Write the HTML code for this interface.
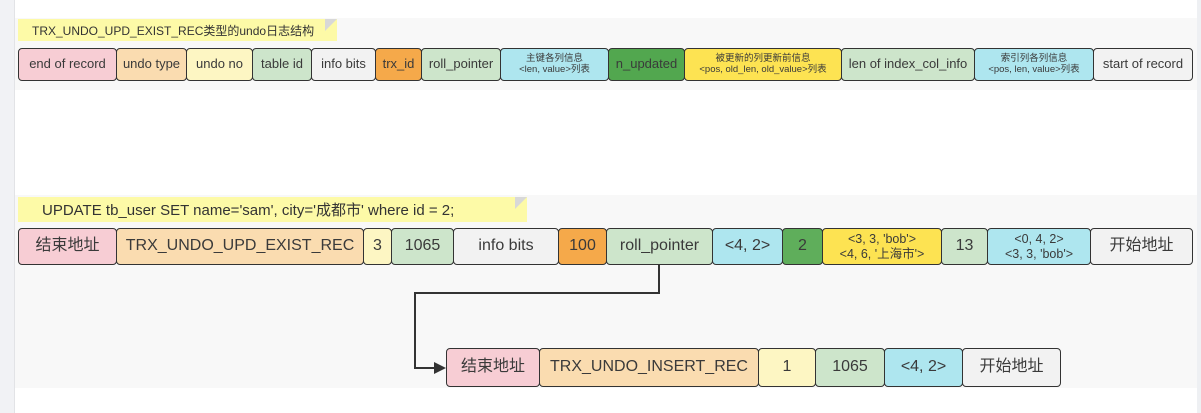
<!DOCTYPE html>
<html><head><meta charset="utf-8"><style>
body{margin:0;width:1201px;height:413px;background:#fff;position:relative;overflow:hidden;font-family:"Liberation Sans","Noto Sans CJK SC",sans-serif;color:#3a3a3a}
.strip{position:absolute;left:0;top:0;width:14px;height:413px;background:#f1f2f5;border-right:1px solid #e2e3e6}
.rstrip{position:absolute;left:1197px;top:0;width:4px;height:413px;background:#eef0f3}
.panel{position:absolute;left:15px;background:#f8f8f8}
.note{position:absolute;background:#fdfaa7;color:#333;white-space:nowrap;display:flex;align-items:center}
.fold{position:absolute;width:0;height:0;border-left:12px solid #d8d8d8;border-bottom:12px solid transparent}
.b{position:absolute;box-sizing:border-box;border:1.6px solid #333;border-radius:4px;display:flex;align-items:center;justify-content:center;text-align:center;white-space:nowrap;line-height:1.15}
.s{font-size:13px}.l{font-size:16px}
.t{font-size:9.5px}
</style></head><body>
<div class="strip"></div><div class="rstrip"></div>
<div class="panel" style="top:18px;height:72px;width:1182px"></div>
<div class="panel" style="top:195px;height:193px;width:1182px"></div>

<div class="note" style="left:18px;top:19px;width:319px;height:22px;font-size:12px;padding-left:14px;box-sizing:border-box">TRX_UNDO_UPD_EXIST_REC类型的undo日志结构</div>
<div class="fold" style="left:325px;top:19px"></div>

<div class="b s" style="left:18px;top:48px;width:99px;height:33px;background:#f7cdd4">end of record</div>
<div class="b s" style="left:116px;top:48px;width:71px;height:33px;background:#fadcb0">undo type</div>
<div class="b s" style="left:186px;top:48px;width:67px;height:33px;background:#fdf6c3">undo no</div>
<div class="b s" style="left:252px;top:48px;width:60px;height:33px;background:#cde5cb">table id</div>
<div class="b s" style="left:311px;top:48px;width:65px;height:33px;background:#f2f2f2">info bits</div>
<div class="b s" style="left:375px;top:48px;width:47px;height:33px;background:#f5a94a">trx_id</div>
<div class="b s" style="left:421px;top:48px;width:80px;height:33px;background:#cde5cb">roll_pointer</div>
<div class="b t" style="left:500px;top:48px;width:109px;height:33px;background:#aee6ef">主键各列信息<br>&lt;len, value&gt;列表</div>
<div class="b s" style="left:608px;top:48px;width:77px;height:33px;background:#52a74f">n_updated</div>
<div class="b t" style="left:684px;top:48px;width:158px;height:33px;background:#fde352">被更新的列更新前信息<br>&lt;pos, old_len, old_value&gt;列表</div>
<div class="b s" style="left:841px;top:48px;width:134px;height:33px;background:#cde5cb">len of index_col_info</div>
<div class="b t" style="left:974px;top:48px;width:120px;height:33px;background:#aee6ef">索引列各列信息<br>&lt;pos, len, value&gt;列表</div>
<div class="b s" style="left:1093px;top:48px;width:100px;height:33px;background:#f2f2f2">start of record</div>

<div class="note" style="left:18px;top:197px;width:509px;height:25px;font-size:15px;padding-left:24px;box-sizing:border-box">UPDATE tb_user SET name='sam', city='成都市' where id = 2;</div>
<div class="fold" style="left:515px;top:197px"></div>

<div class="b l" style="left:18px;top:228px;width:99px;height:37px;background:#f7cdd4">结束地址</div>
<div class="b l" style="left:116px;top:228px;width:248px;height:37px;background:#fadcb0">TRX_UNDO_UPD_EXIST_REC</div>
<div class="b l" style="left:363px;top:228px;width:29px;height:37px;background:#fdf6c3">3</div>
<div class="b l" style="left:391px;top:228px;width:63px;height:37px;background:#cde5cb">1065</div>
<div class="b l" style="left:453px;top:228px;width:106px;height:37px;background:#f2f2f2">info bits</div>
<div class="b l" style="left:558px;top:228px;width:49px;height:37px;background:#f5a94a">100</div>
<div class="b l" style="left:606px;top:228px;width:107px;height:37px;background:#cde5cb">roll_pointer</div>
<div class="b l" style="left:712px;top:228px;width:71px;height:37px;background:#aee6ef">&lt;4, 2&gt;</div>
<div class="b l" style="left:782px;top:228px;width:41px;height:37px;background:#5fae5b">2</div>
<div class="b" style="left:822px;top:228px;width:120px;height:37px;background:#fde352;font-size:12.5px">&lt;3, 3, 'bob'&gt;<br>&lt;4, 6, '上海市'&gt;</div>
<div class="b l" style="left:941px;top:228px;width:47px;height:37px;background:#cde5cb">13</div>
<div class="b" style="left:987px;top:228px;width:104px;height:37px;background:#aee6ef;font-size:12.5px">&lt;0, 4, 2&gt;<br>&lt;3, 3, 'bob'&gt;</div>
<div class="b l" style="left:1090px;top:228px;width:103px;height:37px;background:#f2f2f2">开始地址</div>

<svg style="position:absolute;left:0;top:0" width="1201" height="413">
<polyline points="659,265 659,293 415,293 415,368 436,368" fill="none" stroke="#333" stroke-width="2"/>
<polygon points="446,368 434,362 434,374" fill="#333"/>
</svg>

<div class="b l" style="left:446px;top:348px;width:94px;height:39px;background:#f7cdd4">结束地址</div>
<div class="b l" style="left:539px;top:348px;width:220px;height:39px;background:#fadcb0">TRX_UNDO_INSERT_REC</div>
<div class="b l" style="left:758px;top:348px;width:58px;height:39px;background:#fdf6c3">1</div>
<div class="b l" style="left:815px;top:348px;width:70px;height:39px;background:#cde5cb">1065</div>
<div class="b l" style="left:884px;top:348px;width:79px;height:39px;background:#aee6ef">&lt;4, 2&gt;</div>
<div class="b l" style="left:962px;top:348px;width:99px;height:39px;background:#f2f2f2">开始地址</div>
</body></html>
